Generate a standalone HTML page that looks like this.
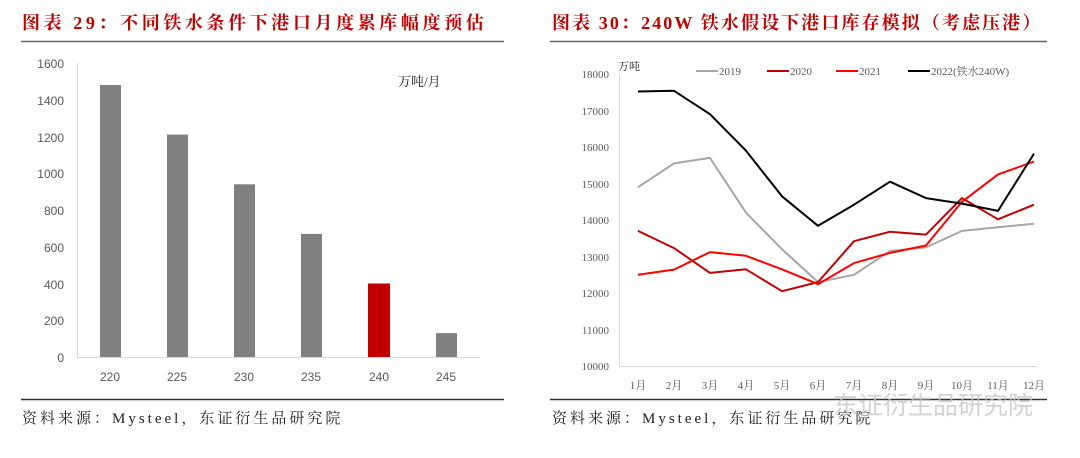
<!DOCTYPE html>
<html><head><meta charset="utf-8"><style>
body{margin:0;background:#fff;width:1080px;height:453px;overflow:hidden}
</style></head><body>
<svg width="1080" height="453" viewBox="0 0 1080 453" xmlns="http://www.w3.org/2000/svg">
<g font-family="'Liberation Serif','Noto Serif CJK SC',serif" font-weight="bold" fill="#c00000" font-size="18">
<text x="22" y="29" letter-spacing="3.6">图表 29：不同铁水条件下港口月度累库幅度预估</text>
<text x="552" y="29" letter-spacing="2.1">图表 30：240W 铁水假设下港口库存模拟（考虑压港）</text>
</g>
<line x1="21" y1="41.5" x2="504" y2="41.5" stroke="#666" stroke-width="1.5"/>
<line x1="550" y1="41.5" x2="1047" y2="41.5" stroke="#666" stroke-width="1.5"/>
<line x1="21" y1="399.5" x2="504" y2="399.5" stroke="#333" stroke-width="1.5"/>
<line x1="550" y1="399.5" x2="1047" y2="399.5" stroke="#333" stroke-width="1.5"/>
<g font-family="'Liberation Serif','Noto Serif CJK SC',serif" font-size="15" fill="#222" letter-spacing="3">
<text x="22" y="423">资料来源：Mysteel，东证衍生品研究院</text>
<text x="552" y="423">资料来源：Mysteel，东证衍生品研究院</text>
</g>
<text x="833" y="414" font-family="'Noto Sans CJK SC',sans-serif" font-size="25" fill="#c8c8c8" opacity="0.8">东证衍生品研究院</text>

<!-- left chart -->
<g stroke="#d9d9d9" stroke-width="1">
<line x1="77.5" y1="63" x2="77.5" y2="357"/>
<line x1="77" y1="357.5" x2="480" y2="357.5"/>
</g>
<g font-family="'Liberation Sans',sans-serif" font-size="12" fill="#595959" text-anchor="end">
<text x="64" y="68">1600</text><text x="64" y="105">1400</text><text x="64" y="142">1200</text>
<text x="64" y="178">1000</text><text x="64" y="215">800</text><text x="64" y="252">600</text>
<text x="64" y="289">400</text><text x="64" y="325">200</text><text x="64" y="362">0</text>
</g>
<g fill="#808080">
<rect x="100" y="85" width="21" height="272"/>
<rect x="167" y="134.6" width="21" height="222.4"/>
<rect x="234" y="184.3" width="21" height="172.7"/>
<rect x="301" y="233.9" width="21" height="123.1"/>
<rect x="368" y="283.5" width="22" height="73.5" fill="#c00000"/>
<rect x="436" y="333.1" width="21" height="23.9"/>
</g>
<g font-family="'Liberation Sans',sans-serif" font-size="12" fill="#595959" text-anchor="middle">
<text x="110" y="381">220</text><text x="177" y="381">225</text><text x="244" y="381">230</text>
<text x="311" y="381">235</text><text x="379" y="381">240</text><text x="446" y="381">245</text>
</g>
<text x="398" y="86" font-family="'Liberation Serif','Noto Serif CJK SC',serif" font-size="13" fill="#222">万吨/月</text>

<!-- right chart -->
<g stroke="#d9d9d9" stroke-width="1">
<line x1="619.5" y1="74" x2="619.5" y2="366"/>
<line x1="619" y1="366.5" x2="1037" y2="366.5"/>
</g>
<g font-family="'Liberation Serif',serif" font-size="11" fill="#595959" text-anchor="end">
<text x="609" y="78">18000</text><text x="609" y="115">17000</text><text x="609" y="151">16000</text>
<text x="609" y="188">15000</text><text x="609" y="224">14000</text><text x="609" y="261">13000</text>
<text x="609" y="297">12000</text><text x="609" y="334">11000</text><text x="609" y="370">10000</text>
</g>
<g font-family="'Liberation Serif','Noto Serif CJK SC',serif" font-size="11" fill="#595959" text-anchor="middle">
<text x="638" y="389">1月</text><text x="674" y="389">2月</text><text x="710" y="389">3月</text>
<text x="746" y="389">4月</text><text x="782" y="389">5月</text><text x="818" y="389">6月</text>
<text x="854" y="389">7月</text><text x="890" y="389">8月</text><text x="926" y="389">9月</text>
<text x="962" y="389">10月</text><text x="998" y="389">11月</text><text x="1034" y="389">12月</text>
</g>
<text x="618" y="70" font-family="'Liberation Serif','Noto Serif CJK SC',serif" font-size="11" fill="#222">万吨</text>
<g font-family="'Liberation Serif','Noto Serif CJK SC',serif" font-size="11" fill="#595959">
<line x1="696" y1="71" x2="718" y2="71" stroke="#a6a6a6" stroke-width="2"/><text x="719" y="75">2019</text>
<line x1="767" y1="71" x2="789" y2="71" stroke="#c00000" stroke-width="2"/><text x="790" y="75">2020</text>
<line x1="836" y1="71" x2="858" y2="71" stroke="#ff0000" stroke-width="2"/><text x="859" y="75">2021</text>
<line x1="908" y1="71" x2="930" y2="71" stroke="#000" stroke-width="2"/><text x="931" y="75">2022(铁水240W)</text>
</g>
<g fill="none" stroke-width="2" stroke-linejoin="round">
<polyline stroke="#a6a6a6" points="638,187.2 674,163.4 710,157.9 746,212.7 782,249.2 818,282.1 854,274.8 890,251 926,247.4 962,230.9 998,227.3 1034,223.7"/>
<polyline stroke="#c00000" points="638,230.9 674,248.1 710,272.9 746,269.3 782,291.2 818,282.1 854,241.2 890,231.7 926,234.6 962,198.1 998,219.3 1034,204.7"/>
<polyline stroke="#ff0000" points="638,274.8 674,269.6 710,252.1 746,255.8 782,269.3 818,284.2 854,263.1 890,252.9 926,245.5 962,201.8 998,174.4 1034,161.6"/>
<polyline stroke="#000" points="638,91.5 674,90.8 710,114.2 746,150.7 782,196.3 818,225.8 854,204.7 890,181.7 926,198.1 962,203.6 998,210.9 1034,153.6"/>
</g>
</svg>
</body></html>
